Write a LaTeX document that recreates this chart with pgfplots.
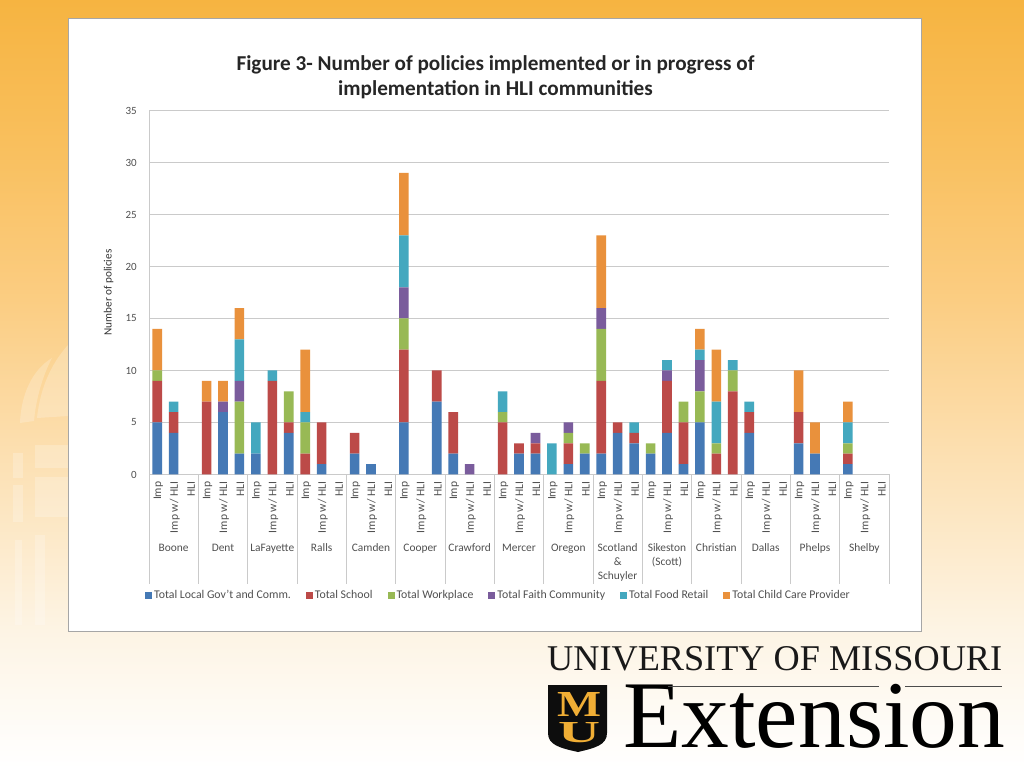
\documentclass[border=0pt]{standalone}
\usepackage{graphicx}
\usepackage{pgfplots}
\pgfplotsset{compat=1.18}
\usepackage{fontspec}
\setmainfont{Carlito}
\newfontfamily\logofont{Liberation Serif}
\definecolor{cA}{HTML}{4579B5}
\definecolor{cB}{HTML}{BC4A48}
\definecolor{cC}{HTML}{98B955}
\definecolor{cD}{HTML}{7A5C9C}
\definecolor{cE}{HTML}{44A8BF}
\definecolor{cF}{HTML}{E9913C}
\definecolor{txt}{HTML}{505050}
\definecolor{gridc}{HTML}{CACACA}
\definecolor{gold}{HTML}{F0AE35}
\definecolor{s1}{HTML}{FDF4E4}
\definecolor{s2}{HTML}{FCDFB0}
\definecolor{s3}{HTML}{FBCD82}
\definecolor{s4}{HTML}{F9C05F}
\definecolor{s5}{HTML}{F6B441}
\pgfdeclareverticalshading{bgs}{100bp}{
 color(0bp)=(white);
 color(25bp)=(white);
 color(34bp)=(s1);
 color(45.7bp)=(s2);
 color(55.5bp)=(s3);
 color(65bp)=(s4);
 color(75bp)=(s5);
 color(100bp)=(s5)}
\tikzset{cty/.style={font=\fontsize{11.4}{14}\selectfont,text=txt,align=center,anchor=north,inner sep=0pt}}
\begin{document}
\begin{tikzpicture}
\path[use as bounding box] (0pt,0pt) rectangle (1024pt,768pt);
\shade[shading=bgs] (0pt,0pt) rectangle (1024pt,768pt);
\begin{scope}[x=1pt,y=-1pt,yshift=768pt]
 % faint dome on the slide background
 \begin{scope}[white,opacity=0.22]
  \fill (20,423) .. controls (21,395) and (32,370) .. (52,358) .. controls (43,375) and (36,398) .. (34,421) -- cycle;
  \fill (37,418) .. controls (40,390) and (50,365) .. (68,345) -- (68,416) -- cycle;
  \fill (13,453) rectangle (23,478);
  \fill (13,485) rectangle (23,522);
  \fill (35,445) rectangle (68,468);
  \fill (35,477) rectangle (68,517);
  \fill (15,540) rectangle (22,625);
  \fill (35,535) rectangle (45,625);
 \end{scope}
 \fill[white] (68,18) rectangle (921,631);
 \draw[gray!70,line width=0.6pt] (68,18) rectangle (921,631);
 % title
 \node[font=\fontsize{21.2}{25}\bfseries\selectfont,text=black!85,align=center,anchor=center] at (495.5,77)
   {Figure 3- Number of policies implemented or in progress of\\implementation in HLI communities};
 % logo
 \node[anchor=base west,inner sep=0pt,text=black!90] at (547,670)
   {\resizebox{455pt}{!}{\logofont\fontsize{37}{37}\selectfont UNIVERSITY OF MISSOURI}};
 \node[anchor=base west,inner sep=0pt,text=black] at (623,747)
   {\resizebox{382pt}{!}{\logofont\fontsize{93}{93}\selectfont Extension}};
 \draw[black!70,line width=0.7pt] (668,686) -- (879,686) (905,686) -- (1002,686);
 \fill[black!95] (548,685) -- (607,685) -- (607,733) .. controls (607,745) and (595,748) .. (578,752) .. controls (560,748) and (548,745) .. (548,733) -- cycle;
 \node[text=gold,inner sep=0pt,font=\logofont\bfseries] at (579,704.5) {\resizebox{44pt}{24pt}{M}};
 \node[text=gold,inner sep=0pt,font=\logofont\bfseries] at (579,732.5) {\resizebox{42pt}{20pt}{U}};
\end{scope}
\begin{axis}[
 at={(149pt,293.5pt)},anchor=south west,
 scale only axis,width=740pt,height=364pt,
 ybar stacked,bar width=9.6pt,
 xmin=-0.5,xmax=44.5,ymin=0,ymax=35,
 clip=false,
 axis lines=left,axis line style={draw=gridc,line width=1pt,-},
 ymajorgrids,grid style={draw=gridc,line width=1pt},
 ytick={0,5,...,35},
 xtick={0,...,44},
 xticklabels={Imp,Imp w/ HLI,HLI,Imp,Imp w/ HLI,HLI,Imp,Imp w/ HLI,HLI,Imp,Imp w/ HLI,HLI,Imp,Imp w/ HLI,HLI,Imp,Imp w/ HLI,HLI,Imp,Imp w/ HLI,HLI,Imp,Imp w/ HLI,HLI,Imp,Imp w/ HLI,HLI,Imp,Imp w/ HLI,HLI,Imp,Imp w/ HLI,HLI,Imp,Imp w/ HLI,HLI,Imp,Imp w/ HLI,HLI,Imp,Imp w/ HLI,HLI,Imp,Imp w/ HLI,HLI},
 major tick length=0pt,
 extra x ticks={-0.5,2.5,5.5,8.5,11.5,14.5,17.5,20.5,23.5,26.5,29.5,32.5,35.5,38.5,41.5,44.5},
 extra x tick labels={},
 extra x tick style={major tick length=109pt,tick align=outside,tick pos=left,grid=none,
   tick style={draw=gridc,line width=1pt}},
 /pgf/number format/assume math mode=true,
 x tick label style={rotate=90,anchor=east,font=\fontsize{11.6}{13}\selectfont,text=txt,inner sep=0pt,xshift=-7pt,yshift=-1pt},
 y tick label style={font=\fontsize{11}{12}\selectfont,text=txt,inner sep=0pt,xshift=-12pt},
 ylabel={Number of policies},
 ylabel style={font=\fontsize{11.2}{12}\selectfont,text=black!80,at={(rel axis cs:0,0.5)},anchor=south,yshift=32pt},
 legend columns=6,
 legend style={at={(-4pt,-121pt)},anchor=west,draw=none,fill=none,inner sep=0pt,
   font=\fontsize{11.8}{13}\selectfont,text=txt,
   nodes={inner sep=0pt},
   /tikz/every odd column/.append style={column sep=2pt},
   /tikz/every even column/.append style={column sep=15pt}},
 legend cell align=left,
 legend image code/.code={\fill[#1,draw=none] (0pt,-3.5pt) rectangle (7pt,3.5pt);},
]
\addplot[fill=cA,draw=none] coordinates {(0,5)(1,4)(2,0)(3,0)(4,6)(5,2)(6,2)(7,0)(8,4)(9,0)(10,1)(11,0)(12,2)(13,1)(14,0)(15,5)(16,0)(17,7)(18,2)(19,0)(20,0)(21,0)(22,2)(23,2)(24,0)(25,1)(26,2)(27,2)(28,4)(29,3)(30,2)(31,4)(32,1)(33,5)(34,0)(35,0)(36,4)(37,0)(38,0)(39,3)(40,2)(41,0)(42,1)(43,0)(44,0)};
\addplot[fill=cB,draw=none] coordinates {(0,4)(1,2)(2,0)(3,7)(4,0)(5,0)(6,0)(7,9)(8,1)(9,2)(10,4)(11,0)(12,2)(13,0)(14,0)(15,7)(16,0)(17,3)(18,4)(19,0)(20,0)(21,5)(22,1)(23,1)(24,0)(25,2)(26,0)(27,7)(28,1)(29,1)(30,0)(31,5)(32,4)(33,0)(34,2)(35,8)(36,2)(37,0)(38,0)(39,3)(40,0)(41,0)(42,1)(43,0)(44,0)};
\addplot[fill=cC,draw=none] coordinates {(0,1)(1,0)(2,0)(3,0)(4,0)(5,5)(6,0)(7,0)(8,3)(9,3)(10,0)(11,0)(12,0)(13,0)(14,0)(15,3)(16,0)(17,0)(18,0)(19,0)(20,0)(21,1)(22,0)(23,0)(24,0)(25,1)(26,1)(27,5)(28,0)(29,0)(30,1)(31,0)(32,2)(33,3)(34,1)(35,2)(36,0)(37,0)(38,0)(39,0)(40,0)(41,0)(42,1)(43,0)(44,0)};
\addplot[fill=cD,draw=none] coordinates {(0,0)(1,0)(2,0)(3,0)(4,1)(5,2)(6,0)(7,0)(8,0)(9,0)(10,0)(11,0)(12,0)(13,0)(14,0)(15,3)(16,0)(17,0)(18,0)(19,1)(20,0)(21,0)(22,0)(23,1)(24,0)(25,1)(26,0)(27,2)(28,0)(29,0)(30,0)(31,1)(32,0)(33,3)(34,0)(35,0)(36,0)(37,0)(38,0)(39,0)(40,0)(41,0)(42,0)(43,0)(44,0)};
\addplot[fill=cE,draw=none] coordinates {(0,0)(1,1)(2,0)(3,0)(4,0)(5,4)(6,3)(7,1)(8,0)(9,1)(10,0)(11,0)(12,0)(13,0)(14,0)(15,5)(16,0)(17,0)(18,0)(19,0)(20,0)(21,2)(22,0)(23,0)(24,3)(25,0)(26,0)(27,0)(28,0)(29,1)(30,0)(31,1)(32,0)(33,1)(34,4)(35,1)(36,1)(37,0)(38,0)(39,0)(40,0)(41,0)(42,2)(43,0)(44,0)};
\addplot[fill=cF,draw=none] coordinates {(0,4)(1,0)(2,0)(3,2)(4,2)(5,3)(6,0)(7,0)(8,0)(9,6)(10,0)(11,0)(12,0)(13,0)(14,0)(15,6)(16,0)(17,0)(18,0)(19,0)(20,0)(21,0)(22,0)(23,0)(24,0)(25,0)(26,0)(27,7)(28,0)(29,0)(30,0)(31,0)(32,0)(33,2)(34,5)(35,0)(36,0)(37,0)(38,0)(39,4)(40,3)(41,0)(42,2)(43,0)(44,0)};
\legend{Total Local Gov't and Comm.,Total School,Total Workplace,Total Faith Community,Total Food Retail,Total Child Care Provider}
\node[cty] at ([yshift=-69pt]axis cs:1,0) {Boone};
\node[cty] at ([yshift=-69pt]axis cs:4,0) {Dent};
\node[cty] at ([yshift=-69pt]axis cs:7,0) {LaFayette};
\node[cty] at ([yshift=-69pt]axis cs:10,0) {Ralls};
\node[cty] at ([yshift=-69pt]axis cs:13,0) {Camden};
\node[cty] at ([yshift=-69pt]axis cs:16,0) {Cooper};
\node[cty] at ([yshift=-69pt]axis cs:19,0) {Crawford};
\node[cty] at ([yshift=-69pt]axis cs:22,0) {Mercer};
\node[cty] at ([yshift=-69pt]axis cs:25,0) {Oregon};
\node[cty] at ([yshift=-69pt]axis cs:28,0) {Scotland\\\&\\Schuyler};
\node[cty] at ([yshift=-69pt]axis cs:31,0) {Sikeston\\(Scott)};
\node[cty] at ([yshift=-69pt]axis cs:34,0) {Christian};
\node[cty] at ([yshift=-69pt]axis cs:37,0) {Dallas};
\node[cty] at ([yshift=-69pt]axis cs:40,0) {Phelps};
\node[cty] at ([yshift=-69pt]axis cs:43,0) {Shelby};
\end{axis}
\end{tikzpicture}
\end{document}
